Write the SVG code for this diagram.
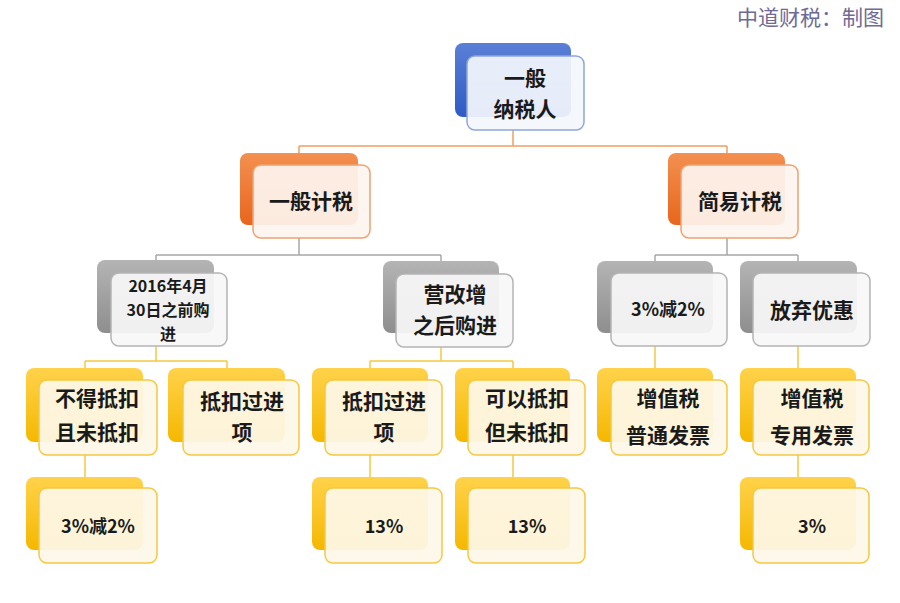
<svg xmlns="http://www.w3.org/2000/svg" width="900" height="603" viewBox="0 0 900 603">
<defs>
<linearGradient id="gBlue" x1="0" y1="0" x2="0" y2="1"><stop offset="0" stop-color="#5a7fd6"/><stop offset="1" stop-color="#2f5bc4"/></linearGradient>
<linearGradient id="gOrange" x1="0" y1="0" x2="0" y2="1"><stop offset="0" stop-color="#f39050"/><stop offset="1" stop-color="#e8661c"/></linearGradient>
<linearGradient id="gGray" x1="0" y1="0" x2="0" y2="1"><stop offset="0" stop-color="#b4b4b4"/><stop offset="1" stop-color="#8e8e8e"/></linearGradient>
<linearGradient id="gYellow" x1="0" y1="0" x2="0" y2="1"><stop offset="0" stop-color="#ffd24a"/><stop offset="1" stop-color="#f5b800"/></linearGradient>
</defs>
<style>
.bb{fill:url(#gBlue)}
.bo{fill:url(#gOrange)}
.bg{fill:url(#gGray)}
.by{fill:url(#gYellow)}
.fb{fill:#f3f6fc;fill-opacity:0.93;stroke:#8ea6dc;stroke-width:1.5}
.fo{fill:#fdf4ee;fill-opacity:0.93;stroke:#f0a070;stroke-width:1.5}
.fg{fill:#f8f8f8;fill-opacity:0.93;stroke:#b4b4b4;stroke-width:1.5}
.fy{fill:#fdf8e8;fill-opacity:0.93;stroke:#f5c842;stroke-width:1.5}
.t{font-family:"Noto Sans CJK SC","Liberation Sans",sans-serif;font-weight:bold;font-size:21px;fill:#1a1a1a;text-anchor:middle}
.s{font-size:18px}
.x{font-size:16px}
.co{fill:none;stroke:#f0a060;stroke-width:1.5}
.cg{fill:none;stroke:#a8a8a8;stroke-width:1.5}
.cy{fill:none;stroke:#f5c842;stroke-width:1.5}
.title{font-family:"Noto Sans CJK SC",serif;font-size:21px;fill:#6f6a96;text-anchor:end}
</style>
<rect width="900" height="603" fill="#ffffff"/>
<text class="title" x="884" y="25">中道财税：制图</text>
<g id="connectors">
<path class="co" d="M513,130 V146 M299,146 H727 M299,146 V153 M727,146 V153"/>
<path class="cg" d="M299,238 V255 M156,255 H441 M156,255 V260 M441,255 V261"/>
<path class="cg" d="M727,238 V255 M655,255 H798 M655,255 V261 M798,255 V261"/>
<path class="cy" d="M156,346 V361 M85,361 H227 M85,361 V368 M227,361 V368"/>
<path class="cy" d="M441,347 V361 M370,361 H513 M370,361 V368 M513,361 V368"/>
<path class="cy" d="M655,346 V368 M798,346 V368"/>
<path class="cy" d="M85,455 V477 M370,455 V477 M513,455 V477 M798,455 V477"/>
</g>
<g id="n-root"><rect class="bb" x="455" y="43" width="116" height="74" rx="8"/><rect class="fb" x="467" y="56" width="117" height="74" rx="8"/><text class="t" x="525" y="86">一般<tspan x="525" dy="31">纳税人</tspan></text></g>
<g id="n-general"><rect class="bo" x="240" y="153" width="118" height="72" rx="8"/><rect class="fo" x="253" y="165" width="117" height="73" rx="8"/><text class="t" x="311" y="209">一般计税</text></g>
<g id="n-simple"><rect class="bo" x="668" y="153" width="117" height="72" rx="8"/><rect class="fo" x="681" y="165" width="117" height="73" rx="8"/><text class="t" x="740" y="209">简易计税</text></g>
<g id="n-before"><rect class="bg" x="97" y="260" width="117" height="73" rx="8"/><rect class="fg" x="111" y="273" width="116" height="73" rx="8"/><text class="t x" x="168" y="292">2016年4月<tspan x="168" dy="24">30日之前购</tspan><tspan x="168" dy="24">进</tspan></text></g>
<g id="n-after"><rect class="bg" x="383" y="261" width="116" height="72" rx="8"/><rect class="fg" x="396" y="274" width="117" height="73" rx="8"/><text class="t" x="455" y="302">营改增<tspan x="455" dy="31">之后购进</tspan></text></g>
<g id="n-32"><rect class="bg" x="597" y="261" width="116" height="72" rx="8"/><rect class="fg" x="611" y="273" width="116" height="73" rx="8"/><text class="t s" x="668" y="316">3%减2%</text></g>
<g id="n-giveup"><rect class="bg" x="740" y="261" width="117" height="72" rx="8"/><rect class="fg" x="753" y="273" width="117" height="73" rx="8"/><text class="t" x="812" y="318">放弃优惠</text></g>
<g id="n-nodeduct"><rect class="by" x="26" y="368" width="117" height="74" rx="8"/><rect class="fy" x="39" y="380" width="118" height="75" rx="8"/><text class="t" x="97" y="406">不得抵扣<tspan x="97" dy="34">且未抵扣</tspan></text></g>
<g id="n-deducted1"><rect class="by" x="168" y="368" width="117" height="74" rx="8"/><rect class="fy" x="183" y="380" width="116" height="75" rx="8"/><text class="t" x="242" y="409">抵扣过进<tspan x="242" dy="31">项</tspan></text></g>
<g id="n-deducted2"><rect class="by" x="312" y="368" width="116" height="74" rx="8"/><rect class="fy" x="325" y="380" width="117" height="75" rx="8"/><text class="t" x="384" y="409">抵扣过进<tspan x="384" dy="31">项</tspan></text></g>
<g id="n-candeduct"><rect class="by" x="455" y="368" width="115" height="74" rx="8"/><rect class="fy" x="468" y="380" width="117" height="75" rx="8"/><text class="t" x="527" y="406">可以抵扣<tspan x="527" dy="34">但未抵扣</tspan></text></g>
<g id="n-common"><rect class="by" x="597" y="368" width="116" height="74" rx="8"/><rect class="fy" x="611" y="380" width="116" height="75" rx="8"/><text class="t" x="668" y="406">增值税<tspan x="668" dy="37">普通发票</tspan></text></g>
<g id="n-special"><rect class="by" x="740" y="368" width="116" height="74" rx="8"/><rect class="fy" x="753" y="380" width="116" height="75" rx="8"/><text class="t" x="812" y="406">增值税<tspan x="812" dy="37">专用发票</tspan></text></g>
<g id="n-r1"><rect class="by" x="26" y="477" width="117" height="73" rx="8"/><rect class="fy" x="39" y="488" width="118" height="75" rx="8"/><text class="t s" x="98" y="533">3%减2%</text></g>
<g id="n-r2"><rect class="by" x="312" y="477" width="116" height="73" rx="8"/><rect class="fy" x="325" y="488" width="117" height="75" rx="8"/><text class="t s" x="384" y="533">13%</text></g>
<g id="n-r3"><rect class="by" x="455" y="477" width="115" height="73" rx="8"/><rect class="fy" x="468" y="488" width="117" height="75" rx="8"/><text class="t s" x="527" y="533">13%</text></g>
<g id="n-r4"><rect class="by" x="740" y="477" width="116" height="73" rx="8"/><rect class="fy" x="753" y="488" width="116" height="75" rx="8"/><text class="t s" x="812" y="533">3%</text></g>
</svg>
